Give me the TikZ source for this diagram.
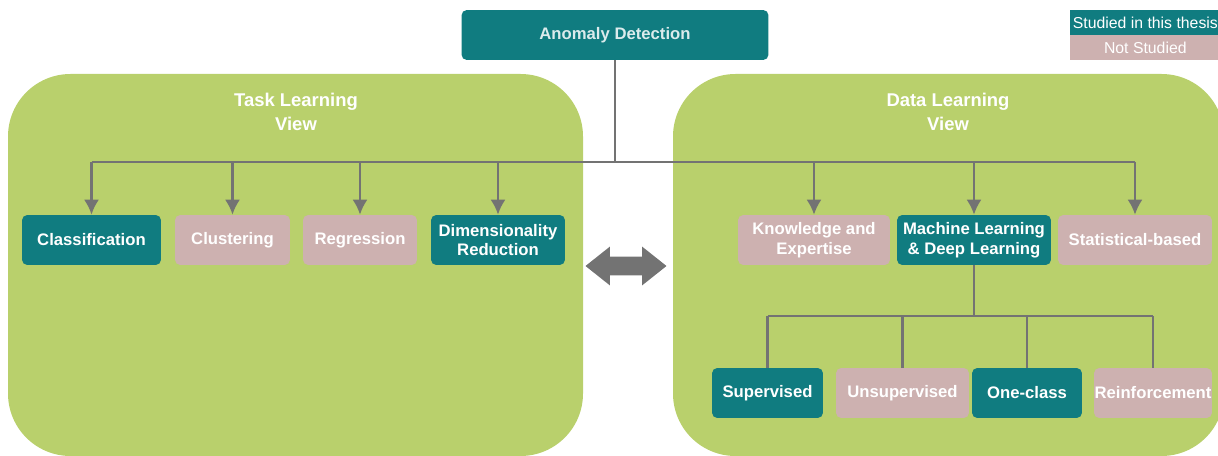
\documentclass[tikz,border=0pt]{standalone}
\usepackage{fontspec}
\setmainfont{Liberation Sans}
\usetikzlibrary{shapes,arrows.meta,positioning,calc}
\definecolor{adteal}{HTML}{107C80}
\definecolor{adpink}{HTML}{CDB1B0}
\definecolor{adgreen}{HTML}{B9D06C}
\definecolor{adgrey}{HTML}{737373}

\begin{document}
\begin{tikzpicture}[
    >={Latex[length=8.5pt,width=8.5pt]},
    x=0.02cm, y=-0.02cm,
    studied/.style={rectangle, rounded corners=3pt, fill=adteal, text=white, align=center, inner sep=0pt, minimum height=1cm, font=\bfseries\fontsize{9.5}{11.3}\selectfont},
    notstudied/.style={studied, fill=adpink},
    legend/.style={rectangle, fill=adteal, text=white, inner sep=0pt, minimum width=3cm, minimum height=0.5cm, anchor=north west, font=\fontsize{9}{10}\selectfont},
    title/.style={text=white, align=center, font=\bfseries\fontsize{10.5}{13.6}\selectfont},
    panel/.style={fill=adgreen, rounded corners=1.25cm},
    link/.style={->, draw=adgrey, line width=1.2pt},
    branch/.style={draw=adgrey, line width=1.2pt}
  ]
    \useasboundingbox (0,0) rectangle (1218,456);
    \clip (0,0) rectangle (1218,456);

    \fill[panel] (8,74) rectangle (583,456);
    \fill[panel] (673,74) rectangle (1224,456);

    \node[studied, minimum width=6.14cm, text=white!85!adteal] (ad) at (615,35) {Anomaly Detection};

    \node[legend] (yes) at (1070,10) {Studied in this thesis};
    \node[legend, fill=adpink] (no) at (1070,35) {Not Studied};

    \node[title] (task) at (296,112) {Task Learning\\View};
    \node[title] (data) at (948,112) {Data Learning\\View};

    \node[studied, minimum width=2.78cm] (cls) at (91.5,240) {Classification};
    \node[notstudied, minimum width=2.3cm] (clu) at (232.5,240) {Clustering};
    \node[notstudied, minimum width=2.28cm] (reg) at (360,240) {Regression};
    \node[studied, minimum width=2.68cm] (dim) at (498,240) {Dimensionality\\Reduction};

    \node[notstudied, minimum width=3.04cm] (know) at (814,240) {Knowledge and\\Expertise};
    \node[studied, minimum width=3.08cm] (ml) at (974,240) {Machine Learning\\\& Deep Learning};
    \node[notstudied, minimum width=3.08cm] (stat) at (1135,240) {Statistical-based};

    \node[studied, minimum width=2.22cm] (sup) at (767.5,393) {Supervised};
    \node[notstudied, minimum width=2.66cm] (unsup) at (902.5,393) {Unsupervised};
    \node[studied, minimum width=2.2cm] (one) at (1027,393) {One-class};
    \node[notstudied, minimum width=2.36cm] (rein) at (1153,393) {Reinforcement};

    \node[double arrow, fill=adgrey, inner xsep=0pt, inner ysep=0.18cm, minimum height=1.62cm, minimum width=0.76cm, double arrow head extend=0.2cm, double arrow tip angle=77] (swap) at (626,266) {};

    \coordinate (bus) at (623,162);
    \coordinate (fork) at (964,316);

    \draw[branch] (ad.south) -- (ad.south |- bus);
    \draw[branch] (cls.north |- bus) -- (stat.north |- bus);
    \draw[link] (cls.north |- bus) -- (cls.north);
    \draw[link] (clu.north |- bus) -- (clu.north);
    \draw[link] (reg.north |- bus) -- (reg.north);
    \draw[link] (dim.north |- bus) -- (dim.north);
    \draw[link] (know.north |- bus) -- (know.north);
    \draw[link] (ml.north |- bus) -- (ml.north);
    \draw[link] (stat.north |- bus) -- (stat.north);

    \draw[branch] (ml.south) -- (ml.south |- fork);
    \draw[branch] (sup.north |- fork) -- (rein.north |- fork);
    \draw[branch] (sup.north |- fork) -- (sup.north);
    \draw[branch] (unsup.north |- fork) -- (unsup.north);
    \draw[branch] (one.north |- fork) -- (one.north);
    \draw[branch] (rein.north |- fork) -- (rein.north);
  \end{tikzpicture}
\end{document}
